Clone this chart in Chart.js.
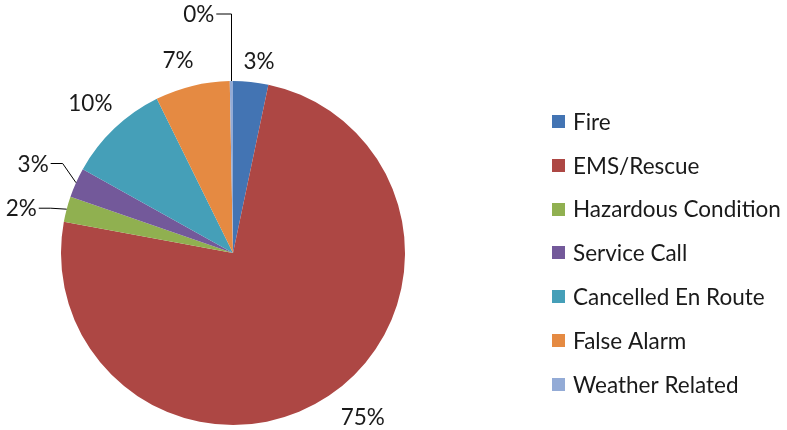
<!DOCTYPE html>
<html>
<head>
<meta charset="utf-8">
<script src="https://cdn.jsdelivr.net/npm/chart.js@4/dist/chart.umd.min.js"></script>
<style>
  html, body { margin: 0; padding: 0; background: #fff; }
  #wrap { width: 787px; height: 430px; position: relative; }
</style>
</head>
<body>
<div id="wrap"><canvas id="pieChart"></canvas></div>
<script>
// Incident types and their share of calls (percent)
const categories = ['Fire', 'EMS/Rescue', 'Hazardous Condition', 'Service Call',
    'Cancelled En Route', 'False Alarm', 'Weather Related'];
const shares = [3.3, 74.6, 2.4, 2.8, 9.6, 7.0, 0.3];

const sliceColors = ['#4374B3', '#AD4744', '#90B050', '#73599A', '#459FB8', '#E58A42', '#93ABD6'];

// label placement: extra distance past the rim, nudges, leader style
const labelDist = [21, 25, 47, 47, 35, 27, 67];
const labelNudgeX = [6, 20, 0, 0, 0, -8, -32];
const labelNudgeY = [0, 0, 11, 0, 0, 0, 0];
const labelLeader = ['none', 'none', 'bent', 'bent', 'none', 'none', 'top'];

const FONT = '22.5px Lato, "Open Sans", sans-serif';
const TEXT = '#1a1a1a';

// Percent labels round the pie
const pieLabels = {
    id: 'pieLabels',
    afterDatasetsDraw(chart) {
        const ctx = chart.ctx;
        const arcs = chart.getDatasetMeta(0).data;
        const total = shares.reduce((a, b) => a + b, 0);
        ctx.save();
        ctx.font = FONT;
        ctx.fillStyle = TEXT;
        ctx.textBaseline = 'middle';
        ctx.textAlign = 'center';
        ctx.strokeStyle = '#000';
        ctx.lineWidth = 1;
        arcs.forEach((arc, i) => {
            const mid = (arc.startAngle + arc.endAngle) / 2;
            const r = arc.outerRadius;
            const dx = Math.cos(mid), dy = Math.sin(mid);
            const lx = arc.x + (r + labelDist[i]) * dx + labelNudgeX[i];
            const ly = arc.y + (r + labelDist[i]) * dy + labelNudgeY[i];
            const txt = Math.round(shares[i] / total * 100) + '%';
            const half = ctx.measureText(txt).width / 2;
            const ex = arc.x + r * dx, ey = arc.y + r * dy;
            if (labelLeader[i] === 'bent') {
                const side = lx < arc.x ? 1 : -1;
                const sx = lx + side * (half + 2);
                ctx.beginPath();
                ctx.moveTo(sx, ly);
                ctx.lineTo(sx + side * 12, ly);
                ctx.lineTo(ex, ey);
                ctx.stroke();
            } else if (labelLeader[i] === 'top') {
                ctx.beginPath();
                ctx.moveTo(lx + half + 2, ly);
                ctx.lineTo(Math.round(ex) + 0.5, ly);
                ctx.lineTo(Math.round(ex) + 0.5, ey);
                ctx.stroke();
            }
            ctx.fillText(txt, lx, ly + 1);
        });
        ctx.restore();
    }
};

// Legend on the right
const sideLegend = {
    id: 'sideLegend',
    afterDraw(chart) {
        const ctx = chart.ctx;
        ctx.save();
        ctx.font = FONT;
        ctx.textBaseline = 'middle';
        ctx.textAlign = 'left';
        categories.forEach((name, i) => {
            const y = 122 + i * 43.8;
            ctx.fillStyle = sliceColors[i];
            ctx.fillRect(552, Math.round(y - 7), 13, 13);
            ctx.fillStyle = TEXT;
            ctx.fillText(name, 573, y + 0.5);
        });
        ctx.restore();
    }
};

const ctx = document.getElementById('pieChart').getContext('2d');
new Chart(ctx, {
    type: 'pie',
    data: {
        labels: categories,
        datasets: [{
            data: shares,
            backgroundColor: sliceColors,
            borderWidth: 0
        }]
    },
    options: {
        responsive: true,
        maintainAspectRatio: false,
        animation: false,
        layout: { padding: { top: 81, bottom: 5, left: 61, right: 382 } },
        plugins: {
            legend: { display: false },
            tooltip: { enabled: false }
        }
    },
    plugins: [pieLabels, sideLegend]
});
</script>
</body>
</html>
